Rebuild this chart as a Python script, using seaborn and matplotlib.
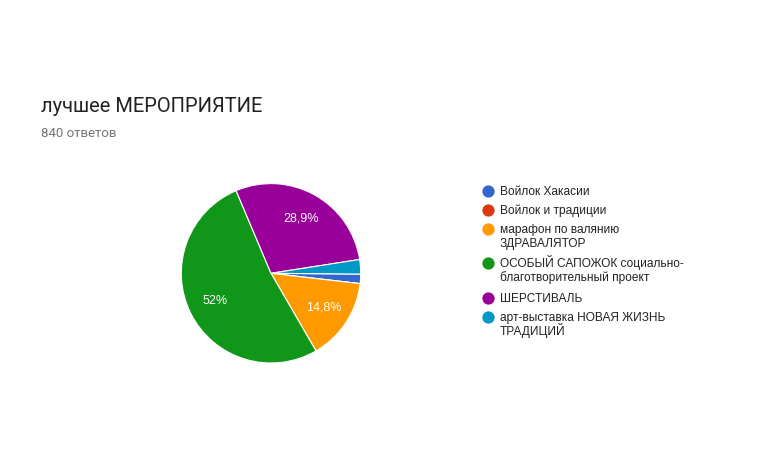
import matplotlib
matplotlib.use('Agg')
import matplotlib.pyplot as plt
import seaborn as sns

# data (Google Forms summary)
categories = [
    'Войлок Хакасии',
    'Войлок и традиции',
    'марафон по валянию\nЗДРАВАЛЯТОР',
    'ОСОБЫЙ САПОЖОК социально-\nблаготворительный проект',
    'ШЕРСТИВАЛЬ',
    'арт-выставка НОВАЯ ЖИЗНЬ\nТРАДИЦИЙ',
]
shares = [1.7, 0.0, 14.8, 52.0, 28.9, 2.6]
slice_colors = ['#3366cc', '#dc3912', '#ff9900', '#109618', '#990099', '#0099c6']
title = 'лучшее МЕРОПРИЯТИЕ'
subtitle = '840 ответов'

W, H = 769, 469

sns.set_theme(style='white')
plt.rcParams['font.family'] = ['Liberation Sans', 'DejaVu Sans']


def px_box(x0, y0, x1, y1):
    """figure-fraction rect from pixel corners (y going down)"""
    return [x0 / W, 1 - y1 / H, (x1 - x0) / W, (y1 - y0) / H]


def pct_label(p):
    if p < 5:
        return ''
    s = f'{p:.1f}'
    if s.endswith('.0'):
        s = s[:-2]
    return s.replace('.', ',') + '%'


fig = plt.figure(figsize=(W / 100, H / 100), dpi=100)
fig.patch.set_facecolor('white')

# overlay in pixel coords for title + legend
lax = fig.add_axes([0, 0, 1, 1])
lax.set_xlim(0, W)
lax.set_ylim(H, 0)
lax.axis('off')

lax.text(41, 112.3, title, fontsize=14.5, color='#202124',
         family=['Roboto', 'DejaVu Sans'], va='baseline', ha='left')
lax.text(41, 137, subtitle, fontsize=9.5, color='#757575',
         family=['Roboto', 'DejaVu Sans'], va='baseline', ha='left')

palette = sns.color_palette(slice_colors)

# legend, drawn by hand so the marker sits on the first line
y = 191
for name, col in zip(categories, palette):
    lines = name.split('\n')
    lax.scatter([488], [y], s=78, color=col, linewidths=0)
    for k, line in enumerate(lines):
        lax.text(500, y + 4 + 14 * k, line, fontsize=8.6, color='#222222',
                 va='baseline', ha='left')
    y += 19 + 15.5 * (len(lines) - 1)

# pie
cx, cy, r = 271, 273.3, 89.7
ax = fig.add_axes(px_box(cx - r, cy - r, cx + r, cy + r))
wedges, texts, autotexts = ax.pie(
    shares, colors=palette, startangle=-0.5, counterclock=False,
    autopct=pct_label, pctdistance=0.7,
    wedgeprops=dict(edgecolor='white', linewidth=0.8),
    textprops=dict(color='white', fontsize=9))
ax.set_xlim(-1, 1)
ax.set_ylim(-1, 1)
ax.set_aspect('equal')

fig.savefig('out.png', dpi=100, facecolor='white')
